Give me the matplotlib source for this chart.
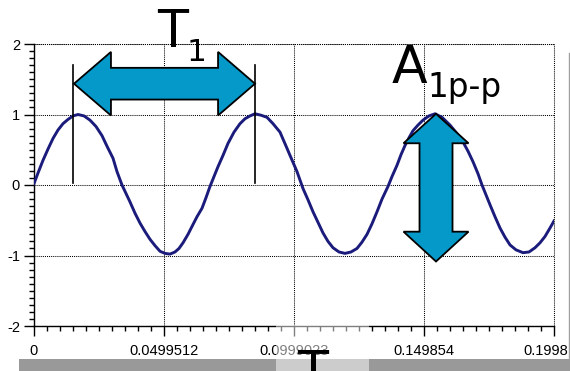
import numpy as np
import matplotlib.pyplot as plt
from matplotlib.patches import Polygon, Rectangle
from matplotlib.ticker import MultipleLocator
from matplotlib.transforms import Bbox

# sampled signal: time in ms, amplitude
t_ms = [0.0, 1.537, 3.458, 5.380, 7.301, 9.222, 11.143, 13.064, 14.986, 16.907,
        19.212, 21.518, 23.823, 26.129, 28.050, 30.356, 31.893, 33.814, 35.351,
        36.888, 38.809, 40.730, 42.651, 44.573, 46.494, 48.415, 50.337, 52.258,
        54.179, 55.716, 57.253, 59.174, 61.095, 62.632, 64.553, 66.090, 67.627,
        69.165, 70.702, 72.623, 74.544, 76.850, 79.155, 81.076, 82.997, 84.918,
        87.224, 89.529, 91.835, 94.524, 97.214, 98.367, 101.056, 103.362,
        105.283, 107.205, 109.126, 111.047, 112.968, 114.890, 117.195, 119.501,
        121.806, 124.112, 126.033, 127.954, 129.875, 131.797, 133.718, 136.023,
        137.560, 139.481, 141.018, 142.555, 144.092, 145.629, 147.550, 149.472,
        151.777, 154.083, 156.772, 159.846, 162.536, 164.841, 166.763, 168.684,
        170.605, 172.142, 173.679, 175.216, 177.137, 179.059, 180.980, 182.901,
        185.207, 187.896, 190.202, 192.507, 194.428, 196.350, 198.271, 199.805]
v = [0.02, 0.17, 0.35, 0.51, 0.66, 0.78, 0.87, 0.93, 0.98, 1.00,
     0.98, 0.92, 0.83, 0.70, 0.55, 0.38, 0.19, 0.00, -0.12,
     -0.24, -0.40, -0.54, -0.66, -0.77, -0.86, -0.94, -0.97, -0.98,
     -0.95, -0.90, -0.82, -0.70, -0.56, -0.45, -0.33, -0.18, -0.02,
     0.12, 0.26, 0.42, 0.59, 0.75, 0.87, 0.94, 0.98, 1.01,
     0.99, 0.96, 0.87, 0.75, 0.52, 0.42, 0.19, -0.05,
     -0.21, -0.38, -0.53, -0.68, -0.80, -0.89, -0.95, -0.97,
     -0.95, -0.90, -0.81, -0.70, -0.55, -0.38, -0.20, -0.02,
     0.12, 0.28, 0.43, 0.56, 0.67, 0.77, 0.85, 0.92,
     0.98, 1.01, 0.96, 0.85, 0.73, 0.61, 0.48, 0.33,
     0.16, 0.00, -0.14, -0.28, -0.45, -0.61, -0.74, -0.85,
     -0.92, -0.96, -0.95, -0.89, -0.82, -0.73, -0.61, -0.51]
t = np.array(t_ms) / 1000.0

x_max = 0.1998047
x_ticks = [0, 0.0499512, 0.0999023, 0.149854, 0.1998047]
x_labels = ['0', '0.0499512', '0.0999023', '0.149854', '0.199805']
y_ticks = [-2, -1, 0, 1, 2]
y_labels = ['-2', '-1', '0', '1', '2']

# period markers and amplitude arrow position
t_marks = [0.01499, 0.08492]
t_amp = 0.15447

W, H = 570, 371
fig = plt.figure(figsize=(W / 100, H / 100), dpi=100)


def fx(px):
    return px / W


def fy(py):
    return 1 - py / H


ax = fig.add_axes([fx(34), fy(326), (554 - 34) / W, (326 - 44) / H])
ax.set_xlim(0, x_max)
ax.set_ylim(-2, 2)

ax.plot(t, v, color='#1b1b7c', lw=2.1, solid_joinstyle='round', zorder=3)

ax.set_xticks(x_ticks, x_labels)
ax.set_yticks(y_ticks, y_labels)
ax.xaxis.set_minor_locator(MultipleLocator(x_max / 40))
ax.yaxis.set_minor_locator(MultipleLocator(0.1))
for lab in ax.get_xticklabels() + ax.get_yticklabels():
    lab.set_fontfamily('Liberation Sans')
    lab.set_fontsize(10.5)
ax.tick_params(which='major', direction='out', length=7, width=1, color='black')
ax.tick_params(which='minor', direction='out', length=3.5, width=1, color='black')
ax.tick_params(axis='x', which='major', pad=6)
ax.tick_params(axis='y', which='major', pad=3)

ax.grid(True, which='major', color='black', lw=0.75, linestyle=(0, (1, 1)))
for s in ['top', 'right']:
    ax.spines[s].set_visible(False)
for s in ['left', 'bottom']:
    ax.spines[s].set_linewidth(1.0)
ax.axhline(2, color='black', lw=0.75, linestyle=(0, (1, 1)), clip_on=False)
ax.axvline(x_max, color='black', lw=0.75, linestyle=(0, (1, 1)), clip_on=False)

# last tick label is cut by the window edge
last = ax.get_xticklabels()[-1]
last.set_clip_on(True)
last.set_clip_box(Bbox([[0, 0], [568, H]]))

# period marker lines
for tm in t_marks:
    ax.plot([tm, tm], [0.03, 1.70], color='black', lw=1.2, zorder=4, clip_on=False)

arrow_fc = '#0499c9'

# horizontal double arrow for the period
xl, xr = 0.01537, t_marks[1]
yc, hl, hh, sh = 1.437, 0.0142, 0.451, 0.225
h_verts = [(xl, yc), (xl + hl, yc + hh), (xl + hl, yc + sh), (xr - hl, yc + sh),
           (xr - hl, yc + hh), (xr, yc), (xr - hl, yc - hh), (xr - hl, yc - sh),
           (xl + hl, yc - sh), (xl + hl, yc - hh)]
ax.add_patch(Polygon(h_verts, closed=True, fc=arrow_fc, ec='black', lw=1.3,
                     zorder=5, clip_on=False))

# vertical double arrow for the peak-to-peak amplitude
top, top_b, bot_b, bot = 1.01, 0.592, -0.662, -1.085
hw, sw = 0.01249, 0.00634
v_verts = [(t_amp, top), (t_amp + hw, top_b), (t_amp + sw, top_b), (t_amp + sw, bot_b),
           (t_amp + hw, bot_b), (t_amp, bot), (t_amp - hw, bot_b), (t_amp - sw, bot_b),
           (t_amp - sw, top_b), (t_amp - hw, top_b)]
ax.add_patch(Polygon(v_verts, closed=True, fc=arrow_fc, ec='black', lw=1.3,
                     zorder=5, clip_on=False))

# labels
fig.text(fx(157), fy(47), 'T', fontsize=36.5, va='baseline', ha='left')
fig.text(fx(186.5), fy(61), '1', fontsize=22.5, va='baseline', ha='left')
fig.text(fx(392), fy(83), 'A', fontsize=37.5, va='baseline', ha='left')
fig.text(fx(427), fy(97), '1p-p', fontsize=23.5, va='baseline', ha='left')

# window frame: scroll bar, right edge, highlighted slot
fig.add_artist(Rectangle((fx(19), 0), (570 - 19) / W, 12 / H, transform=fig.transFigure,
                         fc='#999999', ec='none', zorder=1))
fig.add_artist(plt.Line2D([fx(569), fx(569)], [fy(359), fy(53)], transform=fig.transFigure,
                          color='#a0a0a0', lw=1))
fig.add_artist(Rectangle((fx(276), 0), (369 - 276) / W, (371 - 325) / H,
                         transform=fig.transFigure, fc='white', alpha=0.5, ec='none', zorder=10))
fig.text(fx(297), fy(388), 'T', fontsize=36.5, va='baseline', ha='left', zorder=11)

fig.savefig('out.png', dpi=100)
